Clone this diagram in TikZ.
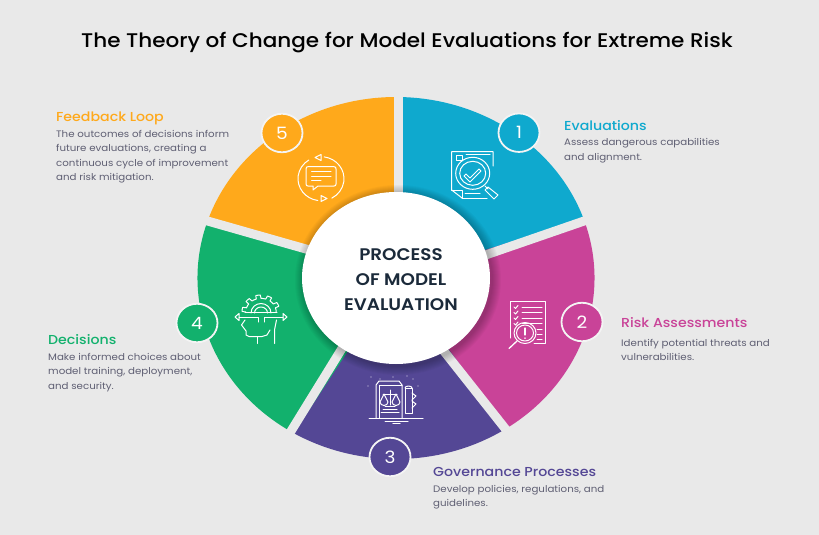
\documentclass[tikz,border=0pt]{standalone}
\usepackage{fontspec}
\usetikzlibrary{shapes.geometric,calc}
\setmainfont[FakeStretch=1.09]{Poppins}
\newfontfamily\pmed[FakeStretch=1.09]{Poppins Medium}
\newfontfamily\psemi[FakeStretch=1.09]{Poppins SemiBold}
\definecolor{bgc}{HTML}{E9E9E9}
\definecolor{cblue}{HTML}{0FA9CE}
\definecolor{cmag}{HTML}{C94398}
\definecolor{cpur}{HTML}{544795}
\definecolor{cgrn}{HTML}{12B16D}
\definecolor{corg}{HTML}{FFA91B}
\definecolor{ctxt}{HTML}{5F5F73}
\definecolor{cdark}{HTML}{1B2A3A}
\tikzset{
 badge/.style={ellipse,minimum width=41pt,minimum height=38.5pt,inner sep=0pt,draw=bgc!50!white,line width=1.8pt,text=white,font=\fontsize{17}{17}\selectfont},
 head/.style={anchor=west,inner sep=0pt,font=\pmed\fontsize{13}{16}\selectfont},
 body/.style={anchor=north west,inner sep=0pt,text=ctxt,align=left,font=\fontsize{9.4}{14.4}\selectfont},
 ico/.style={draw=white,line width=1pt,line join=round,line cap=round},
 gapline/.style={draw=bgc,line width=9pt},
}
\newcommand{\sect}[3]{\fill[#1] (c) -- ([shift={(c)}]#2:198.5 and 181) arc[start angle=#2,end angle=#3,x radius=198.5,y radius=181] -- cycle;}
\begin{document}
\begin{tikzpicture}[x=1pt,y=-1pt]
\useasboundingbox (0,0) rectangle (819,535);
\fill[bgc] (0,0) rectangle (819,535);
\node[inner sep=0pt,font=\pmed\fontsize{19.75}{20}\selectfont] (title) at (407,42.5) {The Theory of Change for Model Evaluations for Extreme Risk};
\coordinate (c) at (396,278);
\sect{cblue}{-90}{-18}
\sect{cmag}{-19}{57}
\sect{cpur}{56}{122}
\sect{cgrn}{121}{199}
\sect{corg}{198}{270}
\draw[gapline] (398.5,200) -- (398.5,90);
\draw[gapline] (470,260.4) -- (600,215.5);
\draw[gapline] (420,320.9) -- (515,441);
\draw[gapline] (360,319.2) -- (280,449);
\draw[gapline] (340,258.7) -- (190,216);
% shadow
\foreach \r in {1,2,...,9}{\fill[black,opacity=.028] (398,280) ellipse[x radius=94+\r,y radius=86+\r];}
\fill[white] (c) ellipse[x radius=94,y radius=86];
\node[inner sep=0pt,text=cdark,align=center,font=\psemi\fontsize{16.8}{25}\selectfont] (centre) at (401,280) {PROCESS\\OF MODEL\\EVALUATION};
% badges
\node[badge,fill=cblue] (b1) at (519,132.7) {1};
\node[badge,fill=cmag] (b2) at (582,322) {2};
\node[badge,fill=cpur] (b3) at (390,457) {3};
\node[badge,fill=cgrn] (b4) at (197,323) {4};
\node[badge,fill=corg] (b5) at (282,133) {5};
% texts
\node[head,text=cblue] (h1) at (564,126) {Evaluations};
\node[body] (t1) at (564,138.5) {Assess dangerous capabilities\\and alignment.};
\node[head,text=cmag] (h2) at (621,323) {Risk Assessments};
\node[body] (t2) at (621,339) {Identify potential threats and\\vulnerabilities.};
\node[head,text=cpur] (h3) at (433,472) {Governance Processes};
\node[body] (t3) at (433,485) {Develop policies, regulations, and\\guidelines.};
\node[head,text=cgrn] (h4) at (48,340) {Decisions};
\node[body] (t4) at (48,353) {Make informed choices about\\model training, deployment,\\and security.};
\node[head,text=corg] (h5) at (56,118) {Feedback Loop};
\node[body] (t5) at (56,130) {The outcomes of decisions inform\\future evaluations, creating a\\continuous cycle of improvement\\and risk mitigation.};
% icon 1
\draw[ico] (462,198) -- (451.7,190) -- (451.7,151.7) -- (493,151.7) -- (493,166);
\draw[ico] (462,198) -- (462,190) -- (451.7,190);
\draw[ico] (462,198) -- (487,198);
\draw[ico] (456,155) rectangle (462,160);
\draw[ico] (466,154.5) -- (490,154.5);
\draw[ico] (465,193) -- (480,193);
\draw[ico] (472.7,173.3) ellipse[x radius=17,y radius=16];
\draw[ico] (472.7,173.3) ellipse[x radius=13,y radius=12];
\draw[ico] (466,174) -- (470,178) -- (479,169) -- (481,171) -- (470,182) -- (464,176) -- cycle;
\draw[ico] (485,186) -- (488,189) (488,187) -- (498,195) -- (494,199) -- (485,190) -- cycle;
% icon 2
\draw[ico] (510,338) -- (510,301.7) -- (545.7,301.7) -- (545.7,343) -- (534,343);
\foreach \y in {307,312.5,318}{\draw[ico] (514,\y) -- (515.5,\y+1.5) -- (518,\y-1.5); \draw[ico] (522,\y) -- (542,\y);}
\draw[ico] (514,323.5) -- (515.5,325) -- (518,322); \draw[ico] (522,323) -- (542,323);
\foreach \y in {329,334,339}{\draw[ico] (537,\y) -- (542,\y);}
\draw[ico] (525,333) ellipse[x radius=11,y radius=10.5];
\draw[ico] (525,333) ellipse[x radius=8.5,y radius=8];
\draw[ico,line width=1.3pt] (525,328) -- (525,335) (525,338) -- (525,338.2);
\draw[ico,line width=1.3pt] (517,341) -- (509,348.5);
% icon 3
\draw[ico] (376,418) -- (376,385) -- (379,381) -- (399,381) -- (402,385) -- (402,418);
\draw[ico] (379,418) -- (379,385) -- (402,385);
\draw[ico] (369,418) -- (423,418);
\draw[ico] (385,421.5) -- (408,421.5);
\draw[ico,line width=1.2pt] (393,423.5) -- (400,423.5);
\draw[ico] (390,390) -- (390,405) (383,394) -- (397,394);
\draw[ico] (384,394) -- (380,402) arc[start angle=180,end angle=0,x radius=4,y radius=3.5] -- cycle;
\draw[ico] (396,394) -- (392,402) arc[start angle=180,end angle=0,x radius=4,y radius=3.5] -- cycle;
\foreach \y/\w in {406/5,409/7,412/9}{\draw[ico] (390-\w,\y) -- (390+\w,\y);}
\draw[ico] (405,388) rectangle (412,413);
\draw[ico] (405,388) arc[start angle=180,end angle=360,x radius=3.5,y radius=2];
\draw[ico] (412,393) -- (416,396) -- (412,400) (412,401) -- (416,404) -- (412,408);
\foreach \px/\py in {371/377,380/379,393/377,407/376,413/379,368/386,418/386}{\fill[white,opacity=.8] (\px,\py) circle[radius=.7];}
% icon 4
\draw[ico] (239,317) -- (258,317) -- (258,322) (283,317) -- (264,317) -- (264,322);
\draw[ico] (239,313.5) -- (235,317) -- (239,320.5) -- cycle;
\draw[ico] (283,313.5) -- (287,317) -- (283,320.5) -- cycle;
\draw[ico] (251,313) arc[start angle=180,end angle=360,x radius=10,y radius=9.5];
\draw[ico] (254.5,313) arc[start angle=180,end angle=360,x radius=6.5,y radius=6];
\draw[ico] plot[domain=180:360,samples=91,variable=\t] ({261+19*(.8+.2*(sin(10*\t)>0?1:0))*cos(\t)},{312+17*(.8+.2*(sin(10*\t)>0?1:0))*sin(\t)});
\draw[ico] (245,312) -- (277,312);
\draw[ico] (245,320) -- (241.5,325) -- (246,331) -- (246,335) -- (249,336.5) -- (262,336.5) -- (267,335) -- (270,330);
\draw[ico] (257.5,336.5) -- (257.5,343.5);
\draw[ico] (276.5,320) -- (274.5,330) -- (274.5,343.5);
% icon 5
\draw[ico] (306,169) .. controls (306,167) and (307,166.7) .. (308,166.7) -- (334,166.7) .. controls (335.5,166.7) and (336,167.5) .. (336,169) -- (336,184) .. controls (336,185.5) and (335.5,186) .. (334,186) -- (318,186) -- (313,190) -- (313,186) -- (308,186) .. controls (307,186) and (306,185.5) .. (306,184) -- cycle;
\foreach \y/\x in {171.7/331,176/331,180/321}{\draw[ico] (311.7,\y) -- (\x,\y);}
\draw[ico] ([shift={(321,178.7)}]-82:23 and 22) arc[start angle=-82,end angle=62,x radius=23,y radius=22];
\draw[ico] ([shift={(321,178.7)}]98:23 and 22) arc[start angle=98,end angle=238,x radius=23,y radius=22];
\draw[ico] (321,154.5) -- (315,157.5) -- (321,160.5) -- cycle;
\draw[ico] (321,195.5) -- (327,198.5) -- (321,201.5) -- cycle;
\end{tikzpicture}
\end{document}
